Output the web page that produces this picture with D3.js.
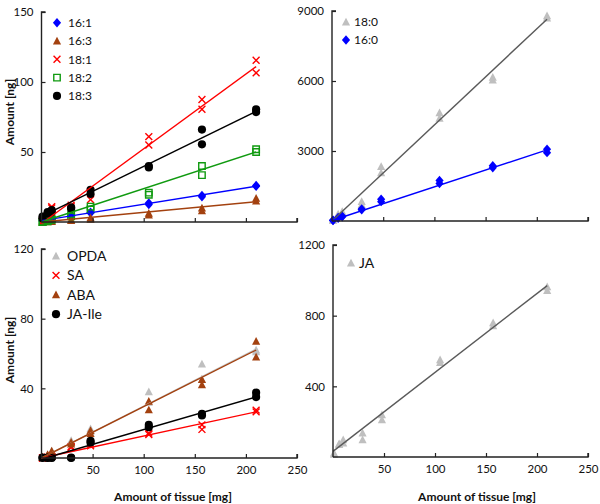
<!DOCTYPE html>
<html><head><meta charset="utf-8">
<script src="https://cdn.jsdelivr.net/npm/d3@7"></script>
<style>body{margin:0;background:#fff}svg{display:block}text{font-family:Lato,"Open Sans",sans-serif;fill:#111}</style>
</head><body><svg id="c" width="600" height="504"></svg>
<script>
// ---- data ----
const tissue = [1, 6, 10, 29, 48, 105, 157, 210];
const xTicks = [50, 100, 150, 200, 250];

// top-left (fatty acids, minor)
const tlNames = ["16:1", "16:3", "18:1", "18:2", "18:3"];
const tl161a = [1, 1.5, 2, 4, 7, 13.5, 19, 26];
const tl161b = [0.5, 1, 2.5, 4.5, 6.5, 12.5, 18, 25.5];
const tl163a = [0, 0.3, 0.5, 1.5, 3, 6.2, 10, 17];
const tl163b = [0, 0.2, 0.4, 1, 2, 5, 8, 15];
const tl181a = [1, 5, 11, 12, 22, 61, 87.5, 115.5];
const tl181b = [0.5, 4, 10, 11, 16, 55, 80.5, 106.5];
const tl182a = [0, 1, 2, 5.5, 11, 21, 40, 52];
const tl182b = [0, 0.5, 1.5, 4, 9, 19.5, 33.5, 50];
const tl183a = [3.8, 7, 8.5, 10.5, 23, 40, 66, 80.5];
const tl183b = [2.5, 6, 7, 9.5, 20, 39, 55.5, 78.5];
const tlFits = [[[0, 1], [210, 25.5]], [[0, 0], [210, 14.5]], [[2, 0], [210, 111]], [[0, 0], [210, 50]], [[0, 4], [210, 79]]];
const tlYTicks = [50, 100, 150];

// top-right (fatty acids, major)
const trNames = ["18:0", "16:0"];
const tr180a = [50, 300, 400, 830, 2330, 4640, 6160, 8790];
const tr180b = [20, 200, 300, 700, 2070, 4400, 6040, 8700];
const tr160a = [30, 150, 200, 510, 930, 1740, 2370, 3080];
const tr160b = [20, 120, 180, 480, 830, 1610, 2280, 2930];
const trFits = [[[0, 0], [210, 8650]], [[0, 20], [210, 3050]]];
const trYTicks = [3000, 6000, 9000];

// bottom-left (hormones)
const blNames = ["OPDA", "SA", "ABA", "JA-Ile"];
const blOPDAa = [0.5, 1.5, 4, 10, 16.8, 38, 54, 62];
const blOPDAb = [0.3, 1, 3.5, 9, 15, 32, 45, 61];
const blSAa = [0, 0.5, 1, 6.5, 8, 14.3, 19, 27.5];
const blSAb = [0, 0.3, 0.8, 6, 7, 13.5, 16.4, 26.5];
const blABAa = [0.5, 2, 4, 9, 15.8, 32.5, 45, 67];
const blABAb = [0.3, 1.5, 3, 8, 14, 27.6, 42, 58];
const blJAIlea = [0.3, 0.2, 0.3, 0.3, 9.9, 19, 25.3, 37.5];
const blJAIleb = [0, 0, 0, 0, 8.8, 17.7, 24.4, 35];
const blFits = [[[0, 0], [210, 62.5]], [[0, 0], [210, 26.5]], [[0, 0], [210, 62]], [[4, 0], [210, 35]]];
const blYTicks = [40, 80, 120];

// bottom-right (JA)
const brNames = ["JA"];
const brJAa = [23, 75, 98, 136, 239, 550, 760, 964];
const brJAb = [15, 70, 79, 98, 211, 535, 742, 942];
const brFits = [[[0, 32], [210, 970]]];
const brYTicks = [400, 800, 1200];

// ---- styles ----
const C = {blue:"#0000ff", brown:"#a3410f", red:"#ff0000", green:"#109a10", black:"#000000", grey:"#bfbfbf", dgrey:"#5a5a5a"};

function symPath(type, r) {
  const p = d3.path();
  if (type === "diamond") { p.moveTo(0,-r*1.1); p.lineTo(r*0.95,0); p.lineTo(0,r*1.1); p.lineTo(-r*0.95,0); p.closePath(); }
  else if (type === "triangle") { p.moveTo(0,-r); p.lineTo(r*0.95,r*0.8); p.lineTo(-r*0.95,r*0.8); p.closePath(); }
  else if (type === "circle") { p.arc(0,0,r*0.95,0,2*Math.PI); }
  else if (type === "square") { p.rect(-r*0.75,-r*0.75,r*1.5,r*1.5); }
  else if (type === "x") { p.moveTo(-r*0.8,-r*0.8); p.lineTo(r*0.8,r*0.8); p.moveTo(r*0.8,-r*0.8); p.lineTo(-r*0.8,r*0.8); }
  return p.toString();
}
function drawSym(g, type, color, x, y, r) {
  const filled = type !== "x" && type !== "square";
  g.append("path").attr("d", symPath(type, r)).attr("transform", `translate(${x},${y})`)
    .attr("fill", filled ? color : "none").attr("stroke", filled ? "none" : color)
    .attr("stroke-width", 1.4);
}

const svg = d3.select("#c");

function panel(cfg) {
  const x = d3.scaleLinear().domain([0, 250]).range(cfg.xr);
  const y = d3.scaleLinear().domain(cfg.yd).range(cfg.yr);
  const g = svg.append("g");
  cfg.series.forEach(s => {
    [s.a, s.b].forEach(arr => arr.forEach((v, i) => drawSym(g, s.type, s.color, x(tissue[i]), y(v), 4.3)));
  });
  cfg.series.forEach(s => {
    g.append("path").datum(s.fit).attr("d", d3.line().x(d => x(d[0])).y(d => y(d[1])))
      .attr("stroke", s.line).attr("stroke-width", 1.4).attr("fill", "none");
  });
  const ya = d3.axisLeft(y).tickValues(cfg.yt).tickSize(-4).tickPadding(8).tickFormat(d3.format("d"));
  const xa = d3.axisBottom(x).tickValues(xTicks).tickSize(-4).tickPadding(8).tickFormat(cfg.xlab ? d3.format("d") : "");
  const gy = g.append("g").attr("transform", `translate(${cfg.xr[0]},0)`).call(ya);
  const gx = g.append("g").attr("transform", `translate(0,${cfg.yr[0]})`).call(xa);
  [gx, gy].forEach(a => {
    a.select(".domain").attr("stroke", "#222").attr("stroke-width", 1.4);
    a.selectAll(".tick line").attr("stroke", "#222").attr("stroke-width", 1.2);
    a.selectAll("text").style("font-size", "11.5px").attr("fill", "#111");
  });
  gy.select(".domain").attr("d", `M0,${cfg.yr[0]}V${cfg.yr[1]}H4`);
  gx.select(".domain").attr("d", `M${cfg.xr[0]},0H${cfg.xr[1]}V-4`);
  cfg.series.forEach((s, i) => {
    const ly = cfg.leg[1] + i * cfg.leg[2];
    drawSym(g, s.type, s.color, cfg.leg[0], ly, 4.3);
    g.append("text").attr("x", cfg.leg[0] + cfg.leg[3]).attr("y", ly).attr("dy", "0.36em")
      .style("font-size", cfg.leg[4] + "px").text(s.name);
  });
}

panel({xr:[41.5, 297], yd:[0,150], yr:[222, 12], yt: tlYTicks, xlab:false, leg:[57, 22.7, 18.3, 11, 12],
  series:[
    {name: tlNames[0], a: tl161a, b: tl161b, type:"diamond", color:C.blue, line:C.blue, fit: tlFits[0]},
    {name: tlNames[1], a: tl163a, b: tl163b, type:"triangle", color:C.brown, line:C.brown, fit: tlFits[1]},
    {name: tlNames[2], a: tl181a, b: tl181b, type:"x", color:C.red, line:C.red, fit: tlFits[2]},
    {name: tlNames[3], a: tl182a, b: tl182b, type:"square", color:C.green, line:C.green, fit: tlFits[3]},
    {name: tlNames[4], a: tl183a, b: tl183b, type:"circle", color:C.black, line:C.black, fit: tlFits[4]}
  ]});
panel({xr:[332, 588], yd:[0,9000], yr:[221, 11], yt: trYTicks, xlab:false, leg:[346, 22, 18, 8, 12],
  series:[
    {name: trNames[0], a: tr180a, b: tr180b, type:"triangle", color:C.grey, line:C.dgrey, fit: trFits[0]},
    {name: trNames[1], a: tr160a, b: tr160b, type:"diamond", color:C.blue, line:C.blue, fit: trFits[1]}
  ]});
panel({xr:[41.5, 297], yd:[0,120], yr:[458, 249], yt: blYTicks, xlab:true, leg:[56, 256, 19.4, 11, 14],
  series:[
    {name: blNames[0], a: blOPDAa, b: blOPDAb, type:"triangle", color:C.grey, line:C.grey, fit: blFits[0]},
    {name: blNames[1], a: blSAa, b: blSAb, type:"x", color:C.red, line:C.red, fit: blFits[1]},
    {name: blNames[2], a: blABAa, b: blABAb, type:"triangle", color:C.brown, line:C.brown, fit: blFits[2]},
    {name: blNames[3], a: blJAIlea, b: blJAIleb, type:"circle", color:C.black, line:C.black, fit: blFits[3]}
  ]});
panel({xr:[333, 588], yd:[0,1200], yr:[457, 245], yt: brYTicks, xlab:true, leg:[351, 263, 20, 8, 14],
  series:[
    {name: brNames[0], a: brJAa, b: brJAb, type:"triangle", color:C.grey, line:C.dgrey, fit: brFits[0]}
  ]});

[[112],[350]].forEach(([cy]) => {
  svg.append("text").attr("transform", `translate(14,${cy}) rotate(-90)`).attr("text-anchor","middle")
    .style("font-size","12px").style("font-weight","bold").text("Amount [ng]");
});
[[173],[477]].forEach(([cx]) => {
  svg.append("text").attr("x", cx).attr("y", 501).attr("text-anchor","middle")
    .style("font-size","12px").style("font-weight","bold").text("Amount of tissue [mg]");
});
</script></body></html>
